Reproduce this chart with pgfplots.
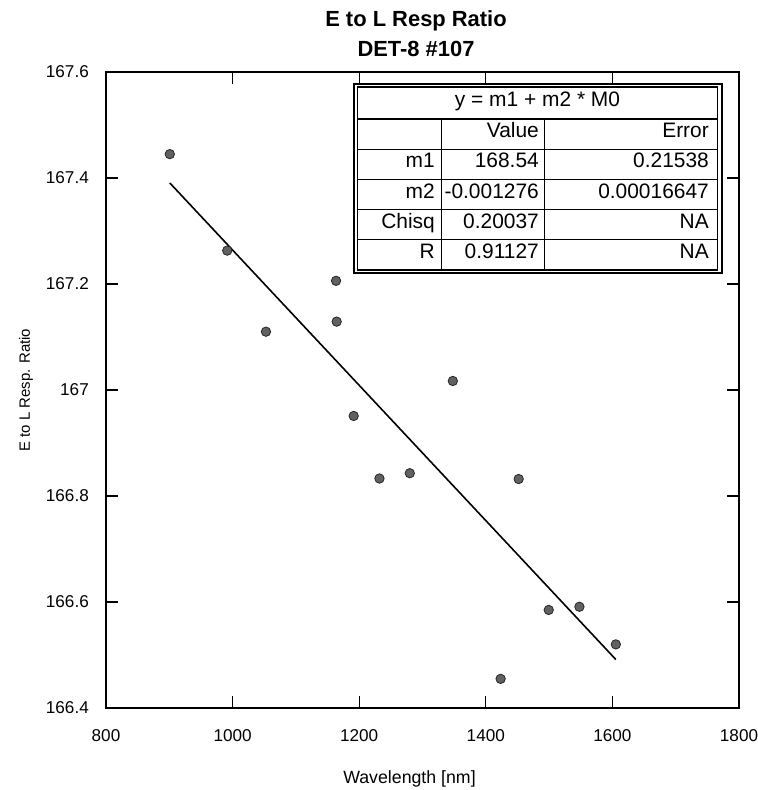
\documentclass[border=0pt]{standalone}
\usepackage{pgfplots}
\pgfplotsset{compat=1.18}
\usepackage{fontspec}
\setmainfont{Liberation Sans}
\begin{document}
\begin{tikzpicture}[x=1bp,y=1bp]
\path[use as bounding box] (-106,-82) rectangle (652,708);
\begin{axis}[
  scale only axis,
  width=633bp, height=636bp,
  at={(0,0)}, anchor=south west,
  xmin=800, xmax=1800, ymin=166.4, ymax=167.6,
  xtick={800,1000,...,1800},
  ytick={166.4,166.6,...,167.6},
  tick align=inside,
  major tick length=12bp,
  minor tick num=0,
  axis line style={line width=1.2bp},
  tick style={line width=1.1bp, black},
  /pgf/number format/assume math mode=true,
  /pgf/number format/1000 sep={},
  ticklabel style={font=\fontsize{17.2}{19}\selectfont},
  xticklabel style={inner sep=0pt, anchor=north, yshift=-21bp},
  xticklabel={\pgfmathprintnumber[fixed,precision=0,1000 sep={}]{\tick}},
  yticklabel style={inner sep=0pt, anchor=east, xshift=-17bp},
  yticklabel={\pgfmathprintnumber[fixed,precision=1,1000 sep={}]{\tick}},
  clip=false,
]
\addplot[only marks, mark=*, mark size=4.7bp,
  mark options={fill=black!62, draw=black!85, line width=0.8bp}]
coordinates {
(900.8,167.445)
(991.5,167.263)
(1052.7,167.110)
(1163.4,167.206)
(1164.4,167.129)
(1347.9,167.017)
(1191.3,166.951)
(1232.0,166.833)
(1279.9,166.843)
(1451.9,166.832)
(1499.4,166.585)
(1547.9,166.591)
(1605.4,166.520)
(1423.4,166.455)
};
\addplot[black, line width=1.6bp] coordinates {
(900.8,167.3906)
(1605.4,166.4915)
};
\end{axis}
% titles and labels
\node[anchor=base, font=\fontsize{22}{26}\selectfont\bfseries] at (310,681) {E to L Resp Ratio};
\node[anchor=base, font=\fontsize{22}{26}\selectfont\bfseries] at (310,651) {DET-8 \#107};
\node[anchor=base, font=\fontsize{17.8}{20}\selectfont] at (303.5,-75) {Wavelength [nm]};
\node[anchor=base, rotate=90, font=\fontsize{15}{18}\selectfont] at (-76,318) {E to L Resp. Ratio};
% fit table
\draw[line width=1.3bp, fill=white] (248,435) rectangle (616,624);
\draw[line width=1.3bp] (251.5,438) rectangle (611.5,621);
\draw[line width=2bp] (251.5,589) -- (611.5,589);
\foreach \yy in {558.8,528.6,498.4,468.2} {\draw[line width=0.9bp] (251.5,\yy) -- (611.5,\yy);}
\draw[line width=0.9bp] (335,589) -- (335,438);
\draw[line width=0.9bp] (438,589) -- (438,438);
\begin{scope}[every node/.style={inner sep=0pt, font=\fontsize{21}{25}\selectfont, text height=0.72em, text depth=0pt}]
\node[anchor=center] at (431.5,605) {y = m1 + m2 * M0};
\node[anchor=east] at (433,573.9) {Value};
\node[anchor=east] at (603,573.9) {Error};
\node[anchor=east] at (329,543.7) {m1};
\node[anchor=east] at (433,543.7) {168.54};
\node[anchor=east] at (603,543.7) {0.21538};
\node[anchor=east] at (329,513.5) {m2};
\node[anchor=east] at (433,513.5) {-0.001276};
\node[anchor=east] at (603,513.5) {0.00016647};
\node[anchor=east] at (329,483.3) {Chisq};
\node[anchor=east] at (433,483.3) {0.20037};
\node[anchor=east] at (603,483.3) {NA};
\node[anchor=east] at (329,453.1) {R};
\node[anchor=east] at (433,453.1) {0.91127};
\node[anchor=east] at (603,453.1) {NA};
\end{scope}
\end{tikzpicture}
\end{document}
